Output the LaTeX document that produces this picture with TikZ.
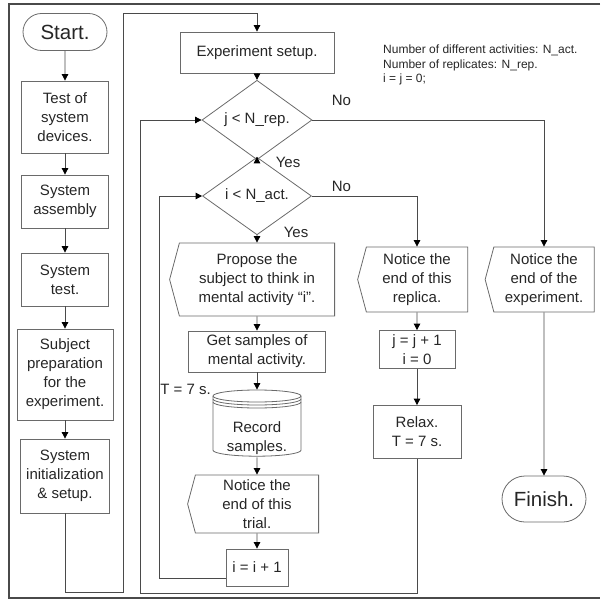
\documentclass[tikz,border=0pt]{standalone}
\usepackage{fontspec}
\setmainfont{Liberation Sans}
\usetikzlibrary{positioning,shapes.geometric,shapes.misc,shapes.symbols,arrows.meta}
\definecolor{lncol}{HTML}{4A4A4A}
\definecolor{bdcol}{HTML}{6A6A6A}
\definecolor{txcol}{HTML}{262626}
\newcommand{\boxfont}{\fontsize{15}{19}\selectfont}
\newcommand{\termfont}{\fontsize{20.5}{24}\selectfont}
\newcommand{\notefont}{\fontsize{12}{14.5}\selectfont}

\begin{document}
\begin{tikzpicture}[x=1pt, y=-1pt, node distance=80pt, >={Triangle[width=6.5pt,length=6.5pt,color=black]},
  main/.style = {draw=bdcol, line width=0.8pt, rectangle, inner sep=0pt, align=center, font=\boxfont, text=txcol},
  term/.style = {main, rounded rectangle, font=\termfont},
  cond/.style = {main, diamond},
  disp/.style = {main, signal, signal to=west, signal pointer angle=150},
  store/.style = {main, draw=none},
  rim/.style = {draw=bdcol, line width=0.8pt},
  lbl/.style = {inner sep=0pt, font=\boxfont, text=txcol},
  line/.style = {draw=lncol, line width=0.8pt}]
  \useasboundingbox (0,0) rectangle (600,601);
  \draw[line width=1.2pt, lncol] (600,4) -- (9,4) -- (9,598) -- (600,598);
  % left column
  \node[term, minimum width=84pt, minimum height=37pt] (1) at (65,32) {Start.};
  \node[main, minimum width=87pt, minimum height=72pt] (2) [node distance=85pt, below of=1] {Test of\\system\\devices.};
  \node[main, minimum width=87pt, minimum height=53pt] (3) [node distance=84.5pt, below of=2] {System\\assembly};
  \node[main, minimum width=87pt, minimum height=53pt] (4) [node distance=78pt, below of=3] {System\\test.};
  \node[main, minimum width=96pt, minimum height=91pt] (5) [node distance=95pt, below of=4] {Subject\\preparation\\for the\\experiment.};
  \node[main, minimum width=89pt, minimum height=74pt] (6) [node distance=101.5pt, below of=5] {System\\initialization\\\& setup.};
  % middle column
  \node[main, minimum width=154pt, minimum height=41pt] (7) at (257,52.5) {Experiment setup.};
  \node[cond, minimum width=110pt, minimum height=59pt] (8) [node distance=67.5pt, below of=7] {j < N\_rep.};
  \node[cond, minimum width=109pt, minimum height=49pt] (9) [node distance=76pt, below of=8] {i < N\_act.};
  \node[disp, minimum width=165pt, minimum height=73pt] (10) [node distance=83.5pt, below of=9] {Propose the\\subject to think in\\mental activity “i”.};
  \node[main, minimum width=137pt, minimum height=41pt] (11) [node distance=72pt, below of=10] {Get samples of\\mental activity.};
  \node[store, minimum width=89pt, minimum height=67pt] (12) [node distance=72pt, below of=11] {\rule{0pt}{40pt}Record\\samples.};
  \node[disp, minimum width=131pt, minimum height=58pt] (13) [node distance=80.5pt, below of=12] {Notice the\\end of this\\trial.};
  \node[main, minimum width=62pt, minimum height=37pt] (14) [node distance=63.5pt, below of=13] {i = i + 1};
  % disk outline of the record node
  \begin{scope}[shift={(12.north)}]
    \draw[rim] (0,6.4) ellipse[x radius=44pt, y radius=6pt];
    \foreach \d in {9.4,12.4}
      \draw[rim] (-44,\d) arc[start angle=180, end angle=360, x radius=44pt, y radius=6pt];
    \draw[rim] (-44,6.4) -- (-44,60.6) arc[start angle=180, end angle=360, x radius=44pt, y radius=6pt] -- (44,6.4);
  \end{scope}
  % right columns
  \node[disp, minimum width=110pt, minimum height=65pt] (15) [node distance=160pt, right of=10] {Notice the\\end of this\\replica.};
  \node[main, minimum width=76pt, minimum height=38pt] (16) [node distance=70pt, below of=15] {j = j + 1\\i = 0};
  \node[main, minimum width=88pt, minimum height=53pt] (17) [node distance=82.5pt, below of=16] {Relax.\\T = 7 s.};
  \node[disp, minimum width=109pt, minimum height=65pt] (18) [node distance=127pt, right of=15] {Notice the\\end of the\\experiment.};
  \node[term, minimum width=84pt, minimum height=46pt] (19) [node distance=219.5pt, below of=18] {Finish.};
  % texts
  \node[lbl, font=\notefont, align=left, anchor=north west] (20) at (383,45) {Number of different activities: N\_act.\\Number of replicates: N\_rep.\\i = j = 0;};
  \node[lbl, anchor=east] (21) at (211,389) {T = 7 s.};
  \node[lbl] (22) at (288,162) {Yes};
  \node[lbl] (23) at (296,232) {Yes};
  \node[lbl] (24) at (341.5,100) {No};
  \node[lbl] (25) at (341.5,186) {No};
  \coordinate (a) at (123,592);
  \coordinate (b) at (123,13);
  \coordinate (c) at (159,578);
  \coordinate (d) at (140,593);
  % connectors
  \draw[line, ->] (1) -- (2);
  \draw[line, ->] (2) -- (3);
  \draw[line, ->] (3) -- (4);
  \draw[line, ->] (4) -- (5);
  \draw[line, ->] (5) -- (6);
  \draw[line, ->] (6.south) |- (a) -- (b) -| (7.north);
  \draw[line, ->] (7) -- (8);
  \draw[line, ->] (8) -- (9);
  \draw[line, ->] (9) -- (10);
  \draw[line, ->] (10) -- (11);
  \draw[line, ->] (11) -- (12);
  \draw[line, ->] (12) -- (13);
  \draw[line, ->] (13) -- (14);
  \draw[line, ->] (14.west |- c) -- (c) |- (9.west);
  \draw[line, ->] (9.east) -| (15.north);
  \draw[line, ->] (8.east) -| (18.north);
  \draw[line, ->] (15) -- (16);
  \draw[line, ->] (16) -- (17);
  \draw[line, ->] (17.south) |- (d) |- (8.west);
  \draw[line, ->] (18) -- (19);
\end{tikzpicture}
\end{document}
